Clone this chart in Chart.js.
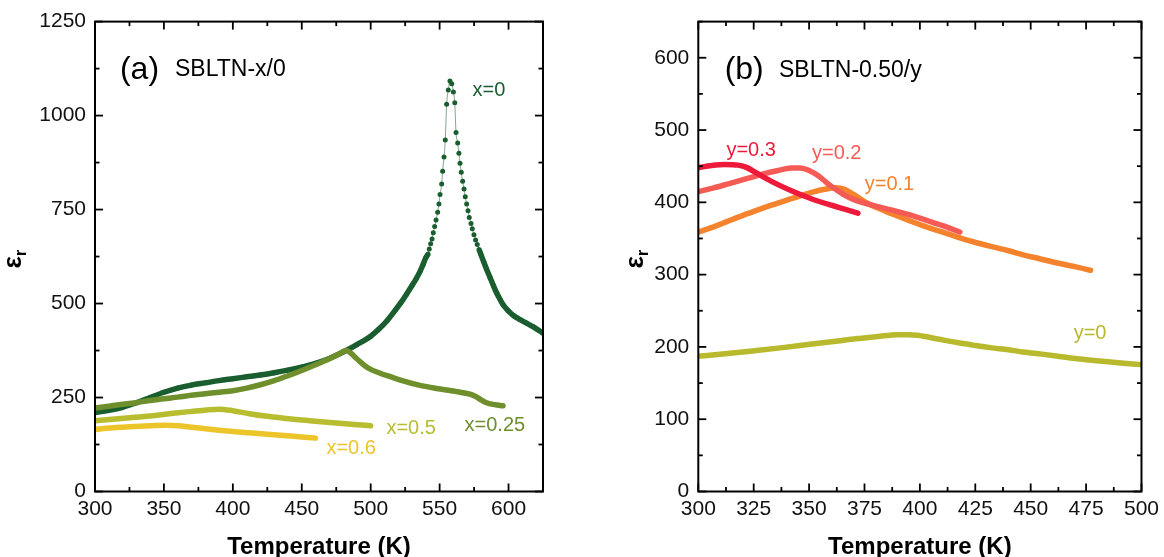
<!DOCTYPE html>
<html>
<head>
<meta charset="utf-8">
<title>SBLTN permittivity</title>
<script src="https://cdn.jsdelivr.net/npm/chart.js@4.4.0/dist/chart.umd.min.js"></script>
<style>
  html, body { margin: 0; padding: 0; background: #fff; }
  #wrap { position: relative; width: 1164px; height: 557px; overflow: hidden; }
  #wrap canvas { position: absolute; top: 0; }
</style>
</head>
<body>
<div id="wrap">
  <canvas id="panelA" width="582" height="557" style="left:0"></canvas>
  <canvas id="panelB" width="582" height="557" style="left:582px"></canvas>
</div>
<script>
// ---- panel (a): SBLTN-x/0 ----
// x = 0 : measured points, dense around the peak
const tempX0 = [300, 310, 320, 330, 340, 350, 360, 370, 380, 390, 400, 410, 420, 430, 440, 450, 460, 470, 480, 490,
  500, 506, 512, 518, 522, 526, 530, 533, 536, 538, 540,
  541.6, 542.5, 543.5, 544.5, 545.4, 546.4, 547.4, 548.6, 549.5, 550.3, 551.5, 552.2, 553.2, 554.1, 555.1, 556.3,
  557.5, 558.8, 560, 561, 561.9, 563.1, 564, 564.8, 565.7, 566.7, 567.7, 568.6, 569.6, 570.6, 571.5, 572.8, 573.7,
  574.9, 576.1, 577.3, 578.6,
  580, 582, 584, 586.5, 589, 591.4, 594, 596.2, 600, 604, 608, 613, 618, 625];
const epsX0 = [210, 216, 224, 236, 250, 264, 275, 283, 289, 295, 300, 305, 310, 316, 323, 331, 341, 354, 371, 391,
  413, 432, 455, 483, 503, 525, 548, 566, 587, 604, 622,
  632, 645, 659, 672, 688, 705, 722, 743, 765, 790, 818, 852, 890, 935, 1030, 1068,
  1092, 1085, 1063, 1034, 955, 927, 900, 873, 849, 825, 805, 784, 765, 747, 729, 713, 699,
  683, 669, 657, 644,
  630, 611, 592, 570, 548, 528, 510, 496, 480, 467, 458, 448, 438, 421];

const tempX025 = [300, 310, 320, 331, 340, 350, 360, 370, 380, 390, 400, 410, 420, 430, 440, 450, 460, 470, 475, 479,
  482, 485, 488, 492, 496, 500, 506, 512, 521, 535, 545, 555, 565, 572, 576, 580, 584, 590, 596];
const epsX025 = [222, 227, 232, 237, 242, 247, 251, 256, 260, 264, 268, 275, 284, 295, 308, 322, 337, 353, 362, 370,
  375, 370, 360, 346, 334, 325, 316, 308, 297, 283, 276, 270, 264, 259, 253, 244, 236, 231, 228];

const tempX05 = [300, 325, 340, 356.8, 370, 381, 390, 400, 412, 425, 437, 450, 462, 475, 488, 500];
const epsX05 = [188, 196, 201, 208, 213, 217, 219, 215, 207, 200, 195, 190, 186.5, 182.5, 178.5, 175];

const tempX06 = [300, 315, 325, 340, 352, 360, 370, 380, 390, 400, 412, 425, 437, 450, 460];
const epsX06 = [165, 170, 172.5, 175, 176, 175, 171, 167, 163, 159.5, 156, 152.5, 149, 145, 142];

// ---- panel (b): SBLTN-0.50/y ----
const tempY03 = [300, 306, 312, 318, 322, 326, 333, 342, 351, 360, 366, 372];
const epsY03 = [448, 451, 452.5, 451.5, 448, 441, 429, 416, 405, 396, 390.5, 385];

const tempY02 = [300, 307, 314, 321, 329, 336, 342, 346, 350, 354, 358, 362, 366, 370, 375, 381, 387, 395, 402, 410, 418];
const epsY02 = [415, 420, 426, 432, 439, 444, 447.5, 447.5, 444, 437, 427, 418, 410, 404, 399, 394, 389.5, 383, 376, 368, 359];

const tempY01 = [300, 305, 311, 318, 326, 333, 340, 346, 352, 357, 362, 366, 370, 375, 381, 387, 395, 402, 410, 417,
  424, 432, 440, 447, 454, 462, 470, 477];
const epsY01 = [359, 364, 371, 379.5, 388.5, 396, 403, 409, 414.5, 418, 420, 418, 411, 401, 392, 384.5, 375, 367, 359, 352,
  345.5, 339, 333, 327, 322, 316, 311, 306];

const tempY0 = [300, 312, 324.6, 338, 351.3, 365, 372, 381, 390, 395, 399, 408, 416.8, 424, 431.7, 440, 446.6, 455,
  461.5, 470, 476.3, 485, 492, 500];
const epsY0 = [187, 190.5, 194.5, 199, 204, 209, 211.5, 214.5, 217, 217, 216, 211, 206, 202.5, 199, 196, 193, 190,
  187.5, 184, 182, 179.5, 177.5, 175.5];

const FONT = '"Liberation Sans", Arial, Helvetica, sans-serif';
const C = {
  x0: '#1a5e30', x0thin: 'rgba(26,94,48,0.55)', x025: '#6e8f2b', x05: '#b7bd2f', x06: '#ecc52a',
  y03: '#ee1a3c', y02: '#f45b55', y01: '#f5822c', y0: '#b8b92c'
};

const pts = (t, e) => t.map((v, i) => ({ x: v, y: e[i] }));

function curve(data, color, order) {
  return {
    data, order,
    borderColor: color,
    borderWidth: 5.5,
    pointRadius: 0,
    cubicInterpolationMode: 'monotone',
    borderCapStyle: 'round',
    borderJoinStyle: 'round'
  };
}

// frame, inward major/minor ticks on all four sides, axis titles and text labels
const decor = {
  id: 'decor',
  afterDatasetsDraw(chart, args, o) {
    const { ctx, chartArea: a, scales: { x, y } } = chart;
    ctx.save();
    ctx.strokeStyle = '#000';
    ctx.lineWidth = 2;
    ctx.strokeRect(a.left, a.top, a.width, a.height);

    ctx.lineWidth = 1.8;
    const mark = (x0, y0, x1, y1) => { ctx.beginPath(); ctx.moveTo(x0, y0); ctx.lineTo(x1, y1); ctx.stroke(); };
    const isMajor = (v, step) => Math.abs(v / step - Math.round(v / step)) < 1e-6;
    for (let v = x.min; v <= x.max + 1e-9; v += o.xMinor) {
      const px = x.getPixelForValue(v);
      const len = isMajor(v, o.xMajor) ? 8 : 4.5;
      mark(px, a.bottom, px, a.bottom - len);
      mark(px, a.top, px, a.top + len);
    }
    for (let v = y.min; v <= y.max + 1e-9; v += o.yMinor) {
      const py = y.getPixelForValue(v);
      const len = isMajor(v, o.yMajor) ? 8 : 4.5;
      mark(a.left, py, a.left + len, py);
      mark(a.right, py, a.right - len, py);
    }

    // x title
    ctx.fillStyle = '#000';
    ctx.font = 'bold 24px ' + FONT;
    ctx.textAlign = 'center';
    ctx.textBaseline = 'alphabetic';
    ctx.fillText('Temperature (K)', (a.left + a.right) / 2, 554);

    // y title: epsilon with subscript r
    const bx = a.left - o.yTitleOffset;
    ctx.translate(bx, (a.top + a.bottom) / 2 + 12);
    ctx.rotate(-Math.PI / 2);
    ctx.textAlign = 'left';
    ctx.font = 'bold 26px ' + FONT;
    ctx.fillText('ε', 0, 0);
    const w = ctx.measureText('ε').width;
    ctx.font = 'bold 17px ' + FONT;
    ctx.fillText('r', w, 5);
    ctx.setTransform(1, 0, 0, 1, 0, 0);

    // text labels anchored in data units (left edge, vertical middle)
    ctx.textAlign = 'left';
    ctx.textBaseline = 'middle';
    for (const l of o.labels) {
      ctx.fillStyle = l.color || '#000';
      ctx.font = l.size + 'px ' + FONT;
      ctx.fillText(l.text, x.getPixelForValue(l.x), y.getPixelForValue(l.y));
    }
    ctx.restore();
  }
};

function axes(xMin, xMax, xStep, yMax, yStep, yWidth) {
  const tickFont = { family: FONT, size: 21 };
  return {
    x: {
      type: 'linear', min: xMin, max: xMax,
      ticks: { stepSize: xStep, includeBounds: false, font: tickFont, color: '#111', padding: 5, maxRotation: 0,
        autoSkip: false, callback: v => String(v) },
      grid: { display: false, drawTicks: false },
      border: { display: false },
      afterFit: s => { s.height = 65.5; }
    },
    y: {
      type: 'linear', min: 0, max: yMax,
      ticks: { stepSize: yStep, includeBounds: false, font: tickFont, color: '#111', padding: 9, callback: v => String(v) },
      grid: { display: false, drawTicks: false },
      border: { display: false },
      afterFit: s => { s.width = yWidth; }
    }
  };
}

const common = {
  responsive: false,
  animation: false,
  events: [],
  plugins: { legend: { display: false }, tooltip: { enabled: false } }
};

new Chart(document.getElementById('panelA'), {
  type: 'line',
  data: {
    datasets: [
      {
        data: pts(tempX0, epsX0), order: 2,
        borderColor: C.x0,
        borderWidth: 5.5,
        pointRadius: 2.5,
        pointBorderWidth: 0,
        pointBackgroundColor: C.x0,
        cubicInterpolationMode: 'monotone',
        borderJoinStyle: 'round',
        // points that sit close together read as a solid band; sparse ones keep a hairline between dots
        segment: {
          borderWidth: c => (c.p1.parsed.x - c.p0.parsed.x > 1.35 ? 5.5 : 1),
          borderColor: c => (c.p1.parsed.x - c.p0.parsed.x > 1.35 ? C.x0 : C.x0thin)
        }
      },
      curve(pts(tempX025, epsX025), C.x025, 1),
      curve(pts(tempX05, epsX05), C.x05, 3),
      curve(pts(tempX06, epsX06), C.x06, 4)
    ]
  },
  options: Object.assign({}, common, {
    layout: { padding: { top: 20, right: 39, left: 0, bottom: 0 } },
    scales: axes(300, 625, 50, 1250, 250, 95),
    plugins: Object.assign({}, common.plugins, {
      decor: {
        xMajor: 50, xMinor: 25, yMajor: 250, yMinor: 125, yTitleOffset: 74,
        labels: [
          { text: '(a)', x: 318.1, y: 1121, size: 32 },
          { text: 'SBLTN-x/0', x: 358, y: 1121, size: 23 },
          { text: 'x=0', x: 573.9, y: 1068, size: 20, color: C.x0 },
          { text: 'x=0.25', x: 568.1, y: 176.5, size: 20, color: C.x025 },
          { text: 'x=0.5', x: 511.4, y: 168.5, size: 20, color: C.x05 },
          { text: 'x=0.6', x: 467.9, y: 115.4, size: 20, color: C.x06 }
        ]
      }
    })
  }),
  plugins: [decor]
});

new Chart(document.getElementById('panelB'), {
  type: 'line',
  data: {
    datasets: [
      curve(pts(tempY03, epsY03), C.y03, 1),
      curve(pts(tempY02, epsY02), C.y02, 2),
      curve(pts(tempY01, epsY01), C.y01, 3),
      curve(pts(tempY0, epsY0), C.y0, 4)
    ]
  },
  options: Object.assign({}, common, {
    layout: { padding: { top: 20, right: 17.3, left: 0, bottom: 0 } },
    scales: axes(300, 500, 25, 650, 100, 116.3),
    plugins: Object.assign({}, common.plugins, {
      decor: {
        xMajor: 25, xMinor: 12.5, yMajor: 100, yMinor: 50, yTitleOffset: 55,
        labels: [
          { text: '(b)', x: 311.9, y: 582.6, size: 32 },
          { text: 'SBLTN-0.50/y', x: 336.4, y: 582.6, size: 23 },
          { text: 'y=0.3', x: 312.7, y: 472, size: 20, color: C.y03 },
          { text: 'y=0.2', x: 351.3, y: 467, size: 20, color: C.y02 },
          { text: 'y=0.1', x: 375.1, y: 425, size: 20, color: C.y01 },
          { text: 'y=0', x: 469.4, y: 219, size: 20, color: C.y0 }
        ]
      }
    })
  }),
  plugins: [decor]
});
</script>
</body>
</html>
